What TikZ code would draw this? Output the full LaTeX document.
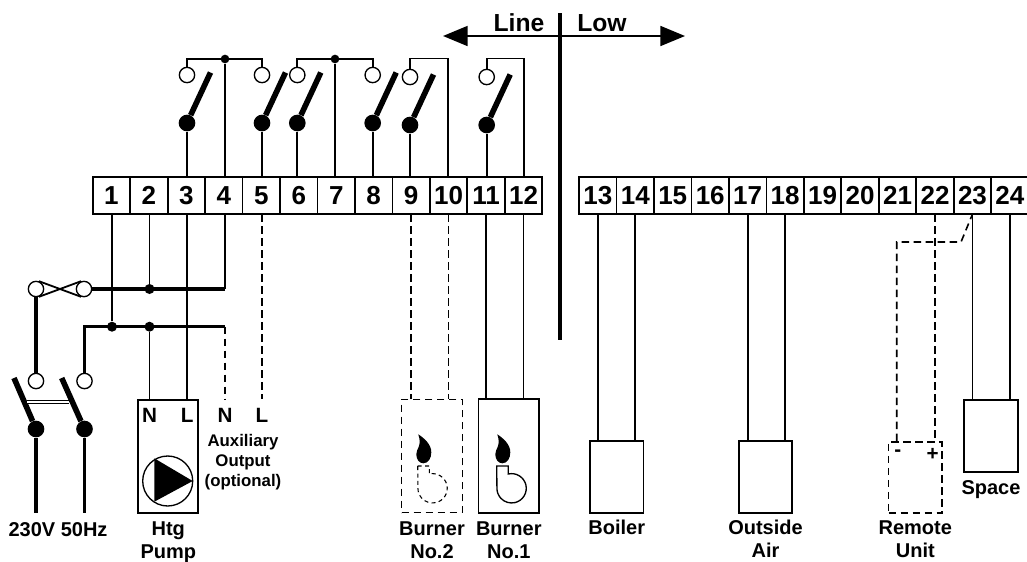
\documentclass[tikz,border=0pt]{standalone}
\usepackage{fontspec}
\setmainfont{Liberation Sans}
\usepackage{tikz}
\usetikzlibrary{shapes, positioning, calc, arrows.meta}

\begin{document}
\begin{tikzpicture}[
    x = 0.75pt, y = -0.75pt, align = center,
    terminal/.style = {rectangle, draw, line width = 1.35pt, inner sep = 0pt, outer sep = 0pt, minimum width = 28.1pt, minimum height = 28pt, font = \bfseries\fontsize{19.5}{22}\selectfont},
    contact/.style = {circle, draw, fill = white, line width = 1pt, inner sep = 0pt, minimum size = 11.5pt},
    pivot/.style = {circle, fill = black, inner sep = 0pt, minimum size = 12.5pt},
    junction/.style = {circle, fill = black, inner sep = 0pt, minimum size = 7.5pt},
    unit/.style = {rectangle, draw, line width = 1.35pt, inner sep = 0pt, minimum width = 40pt, minimum height = 53.5pt},
    dashunit/.style = {unit, line width = 1.2pt, dash pattern = on 5.5pt off 3.5pt},
    caption/.style = {inner sep = 0pt, font = \bfseries\fontsize{15}{17.4}\selectfont},
    smallcap/.style = {inner sep = 0pt, font = \bfseries\fontsize{12.6}{15}\selectfont},
    pole/.style = {inner sep = 0pt, font = \bfseries\fontsize{15.5}{18}\selectfont},
    head/.style = {inner sep = 0pt, font = \bfseries\fontsize{18.5}{22}\selectfont},
    wire/.style = {line width = 1.35pt},
    dashwire/.style = {line width = 1.2pt, dash pattern = on 5.5pt off 3.5pt},
    live/.style = {line width = 2.4pt},
    blade/.style = {line width = 4.2pt},
    span/.style = {<->, line width = 1.35pt, > = {Triangle[length = 18.5pt, width = 15pt]}},
    flame/.pic = {\fill (0,0) .. controls (6,4) and (13,10) .. (13,18) .. controls (13,24) and (10,29) .. (5,29) .. controls (1,29) and (-2,25) .. (-2,20) .. controls (-2,14) and (4,12) .. (0,0);},
    fan/.pic = {\draw (0,0) -- (11.6,0) -- (11.6,8) arc[start angle = 103, end angle = -180, radius = 11pt] -- cycle;},
    ]

    \useasboundingbox (0,0) rectangle (1027,561);

    % terminal blocks
    \node [terminal] (t1) at (111.45,195.5) {1};
    \foreach \n [remember = \n as \p (initially 1)] in {2,...,12}
        \node [terminal, right = 0pt of t\p] (t\n) {\n};
    \node [terminal] (t13) at (597.8,195.5) {13};
    \foreach \n [remember = \n as \p (initially 13)] in {14,...,24}
        \node [terminal, right = 0pt of t\p] (t\n) {\n};

    % relay switches
    \foreach \n/\x/\y in {3/187/123, 5/262/123, 6/297.3/123, 8/372.7/123, 9/410/125, 11/486.7/125} {
        \node [pivot] (p\n) at (\x,\y) {};
        \node [contact, on grid, above = 36pt of p\n] (c\n) {};
        \coordinate (b\n) at ([shift = {(23.5,-50.5)}]p\n);
        \draw [blade] (p\n) to (b\n);
        \draw [wire] (p\n) to (p\n |- t\n.north);
    }

    % common feeds
    \node [junction, minimum size = 6.5pt] (j4) at (225,59) {};
    \node [junction, minimum size = 6.5pt] (j7) at (335,59) {};
    \draw [wire] (c3) -- (c3 |- j4) -- (c5 |- j4) -- (c5);
    \draw [wire] (c6) -- (c6 |- j7) -- (c8 |- j7) -- (c8);
    \draw [wire] (j4) to (j4 |- t4.north);
    \draw [wire] (j7) to (j7 |- t7.north);
    \coordinate (q10) at (447.7,58.5);
    \coordinate (q12) at (523.7,58.5);
    \draw [wire] (c9) -- (c9 |- q10) -- (q10) -- (q10 |- t10.north);
    \draw [wire] (c11) -- (c11 |- q12) -- (q12) -- (q12 |- t12.north);

    % mains side
    \node [contact] (l1) at (36,289) {};
    \node [contact] (n1) at (84,289) {};
    \node [contact] (l2) at (36,381) {};
    \node [contact] (n2) at (84.5,381) {};
    \node [pivot] (l3) at (36,429) {};
    \node [pivot] (n3) at (84.5,429) {};
    \coordinate (lb) at (14,378);
    \coordinate (nb) at (61.7,378);
    \coordinate (le) at (36,512.7);
    \coordinate (ne) at (84.5,512.7);
    \coordinate (lk) at (27,402);
    \coordinate (nk) at (69,402);
    \draw [blade] (l3) to (lb);
    \draw [blade] (n3) to (nb);
    \draw [live] (l3) to (le);
    \draw [live] (n3) to (ne);
    \draw [line width = 0.7pt, double, double distance = 1.6pt] (lk) to (nk);
    \draw [wire] (l1.70) to (n1.250);
    \draw [wire] (l1.-70) to (n1.110);
    \draw [live] (l1) to (l2);

    \node [junction] (j2) at (149.5,289) {};
    \node [junction] (j1a) at (112,326.7) {};
    \node [junction] (j2a) at (149.5,326.7) {};
    \coordinate (e4) at (225,289);
    \coordinate (e4a) at (225,326.7);
    \draw [live] (n1) -- (e4);
    \draw [line width = 1.7pt] (e4) -- (e4 |- t4.south);
    \draw [live] (n2) -- (n2 |- j2a) -- (e4a);
    \draw [wire] (j2) to (j2 |- t2.south);
    \draw [wire] (j1a) to (j1a |- t1.south);

    % pump
    \node [unit, minimum width = 45pt, minimum height = 84.5pt] (pump) at (168.3,456.3) {};
    \node [circle, draw, line width = 1pt, inner sep = 0pt, minimum size = 37.5pt] (rotor) at (167.7,481) {};
    \fill (154.3,458.3) -- (154.3,501.7) -- (192.7,481) -- cycle;
    \node [pole] (pn) at (149.5,415) {N};
    \node [pole] (pl) at (187.3,415) {L};
    \draw [wire] (j2a) to (j2a |- pump.north);
    \draw [wire] (pl |- pump.north) to (pl |- t3.south);
    \node [caption, below = 6pt of pump] (pumpcap) {Htg\\Pump};

    % optional output
    \node [pole] (an) at (225,415) {N};
    \node [pole] (al) at (262,415) {L};
    \draw [dashwire] (e4a) to (an |- pump.north);
    \draw [dashwire] (al |- t5.south) to (al |- pump.north);
    \node [smallcap] (auxcap) at (243,462.5) {Auxiliary\\Output\\(optional)};
    \node [caption] (maincap) at (58,530) {230V 50Hz};

    % burners
    \node [dashunit, minimum width = 45.5pt, minimum height = 85pt] (burner2) at (432,456) {};
    \node [unit, minimum width = 45.5pt, minimum height = 85pt] (burner1) at (508.8,456) {};
    \draw [dashwire] (t9.south) to (t9.south |- burner2.north);
    \draw [dashwire] (t10.south) to (t10.south |- burner2.north);
    \draw [wire] (t11.south) to (t11.south |- burner1.north);
    \draw [wire] (t12.south) to (t12.south |- burner1.north);
    \pic at (418.3,434.3) {flame};
    \pic at (497.3,434.3) {flame};
    \pic [line width = 0.8pt, dash pattern = on 3pt off 2.5pt] at (417.7,466) {fan};
    \pic [line width = 1pt] at (496.7,466) {fan};
    \node [caption, below = 6pt of burner2] (b2cap) {Burner\\No.2};
    \node [caption, below = 6pt of burner1] (b1cap) {Burner\\No.1};

    % sensors
    \node [unit] (boiler) at (616.8,477) {};
    \node [unit] (outside) at (765.5,477) {};
    \node [dashunit] (remote) at (915.3,477.5) {};
    \node [unit] (space) at (991,436) {};
    \draw [wire] (t13.south) to (t13.south |- boiler.north);
    \draw [wire] (t14.south) to (t14.south |- boiler.north);
    \draw [wire] (t17.south) to (t17.south |- outside.north);
    \draw [wire] (t18.south) to (t18.south |- outside.north);
    \draw [wire] (t23.south) to (t23.south |- space.north);
    \draw [wire] (t24.south) to (t24.south |- space.north);
    \draw [dashwire] (t22.south) to (t22.south |- remote.north);
    \coordinate (r1) at (896.7,242);
    \coordinate (r2) at (961,242);
    \draw [dashwire] (r1 |- remote.north) -- (r1) -- (r2) -- (t23.south);
    \node [pole] (rm) at (897.7,453) {-};
    \node [pole] (rp) at (932.7,454) {+};
    \node [caption, below = 4.5pt of boiler] (boilercap) {Boiler};
    \node [caption, below = 4.8pt of outside] (outsidecap) {Outside\\Air};
    \node [caption, below = 4.5pt of remote] (remotecap) {Remote\\Unit};
    \node [caption, below = 6pt of space] (spacecap) {Space};

    % line and low voltage
    \coordinate (dtop) at (560,13);
    \coordinate (dbot) at (560,340);
    \coordinate (al1) at (443,36);
    \coordinate (al2) at (685,36);
    \draw [line width = 2.6pt] (dtop) to (dbot);
    \draw [span] (al1) to (al2);
    \node [head] (line) at (519,23) {Line};
    \node [head] (low) at (602,23) {Low};
\end{tikzpicture}
\end{document}
